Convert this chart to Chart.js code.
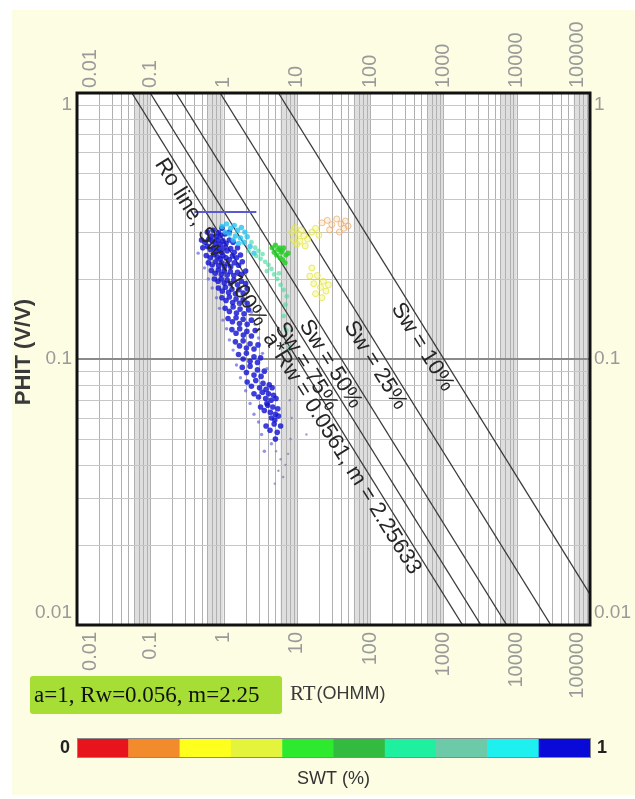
<!DOCTYPE html>
<html>
<head>
<meta charset="utf-8">
<script src="https://cdn.jsdelivr.net/npm/chart.js@4.4.1/dist/chart.umd.min.js"></script>
<style>
  html, body { margin: 0; padding: 0; background: #fff; }
</style>
</head>
<body>
<canvas id="pickett" width="635" height="799"></canvas>
<script>
// axis ticks
const rtTicks = [0.01, 0.1, 1, 10, 100, 1000, 10000, 100000]
const rtTickLabels = ['0.01', '0.1', '1', '10', '100', '1000', '10000', '100000']
const phiTicks = [1, 0.1, 0.01]
const phiTickLabels = ['1', '0.1', '0.01']

// Archie / Pickett parameters
const aRw = 0.0561
const mExp = 2.25633
const nExp = 2
const swLines = [1, 0.75, 0.5, 0.25, 0.1]
const swLineLabels = ['Ro line, Sw = 100%, a*Rw = 0.0561, m = 2.25633', 'Sw = 75%', 'Sw = 50%', 'Sw = 25%', 'Sw = 10%']
const swLabelPhi = [0.099, 0.099, 0.101, 0.1, 0.117]

// SWT colour scale, 0 -> 1
const swtColors = ['#e8141c', '#f28b2c', '#ffff1e', '#e4f43c', '#2eea2e', '#33bb40', '#1ff0a0', '#6ccaa8', '#1ef0f0', '#0a0ad8']

// porosity cutoff segment
const cutoffRt = [0.4, 2.8]
const cutoffPhi = [0.357, 0.357]

// log samples [RT, PHIT]
const bluePts = [
  [0.6, 0.3], [0.72, 0.305], [0.85, 0.298], [0.95, 0.31], [0.68, 0.29], [0.8, 0.288], [0.92, 0.292], [1.05, 0.295], [1.2, 0.3],
  [0.5, 0.28], [0.56, 0.275], [0.63, 0.282], [0.7, 0.278], [0.77, 0.272], [0.84, 0.28], [0.9, 0.27], [0.98, 0.278], [1.08, 0.272], [1.2, 0.28], [1.35, 0.275],
  [0.52, 0.262], [0.6, 0.265], [0.66, 0.258], [0.73, 0.262], [0.8, 0.255], [0.87, 0.26], [0.94, 0.252], [1.02, 0.262], [1.12, 0.255], [1.25, 0.26], [1.4, 0.252], [1.55, 0.262],
  [0.58, 0.245], [0.66, 0.24], [0.74, 0.247], [0.82, 0.242], [0.9, 0.238], [0.98, 0.245], [1.08, 0.24], [1.2, 0.236], [1.32, 0.244], [1.5, 0.24], [1.7, 0.246],
  [0.62, 0.23], [0.7, 0.226], [0.78, 0.232], [0.86, 0.224], [0.94, 0.23], [1.03, 0.222], [1.13, 0.228], [1.25, 0.222], [1.4, 0.23], [1.6, 0.225], [1.8, 0.232],
  [0.68, 0.215], [0.77, 0.21], [0.85, 0.216], [0.93, 0.208], [1.02, 0.214], [1.12, 0.207], [1.24, 0.213], [1.38, 0.206], [1.55, 0.212], [1.75, 0.208], [2.0, 0.214],
  [0.75, 0.2], [0.84, 0.196], [0.93, 0.2], [1.02, 0.193], [1.12, 0.198], [1.24, 0.192], [1.38, 0.198], [1.55, 0.19], [1.75, 0.196], [2.0, 0.192],
  [0.85, 0.185], [0.96, 0.18], [1.06, 0.186], [1.17, 0.178], [1.3, 0.183], [1.45, 0.176], [1.62, 0.182], [1.85, 0.177], [2.1, 0.184],
  [0.95, 0.17], [1.08, 0.166], [1.2, 0.171], [1.33, 0.163], [1.48, 0.168], [1.65, 0.162], [1.85, 0.167], [2.1, 0.162],
  [1.05, 0.155], [1.2, 0.151], [1.35, 0.157], [1.5, 0.149], [1.68, 0.154], [1.9, 0.148], [2.2, 0.153],
  [1.15, 0.142], [1.32, 0.138], [1.48, 0.143], [1.65, 0.136], [1.85, 0.141], [2.1, 0.135], [2.4, 0.14],
  [1.3, 0.129], [1.48, 0.125], [1.66, 0.13], [1.86, 0.123], [2.08, 0.127], [2.4, 0.122], [2.7, 0.128],
  [1.45, 0.116], [1.65, 0.112], [1.85, 0.117], [2.05, 0.11], [2.3, 0.114], [2.6, 0.109], [2.95, 0.113],
  [1.6, 0.104], [1.85, 0.1], [2.05, 0.105], [2.3, 0.098], [2.6, 0.102], [2.9, 0.097], [3.2, 0.101],
  [1.8, 0.093], [2.05, 0.089], [2.3, 0.094], [2.6, 0.087], [2.9, 0.091], [3.25, 0.086], [3.6, 0.09],
  [2.1, 0.082], [2.4, 0.079], [2.75, 0.083], [3.1, 0.078], [3.45, 0.081], [3.8, 0.077], [4.2, 0.08], [4.6, 0.078],
  [2.6, 0.074], [3.0, 0.072], [3.4, 0.075], [3.75, 0.071], [4.1, 0.074], [4.45, 0.07], [4.8, 0.073], [5.2, 0.071], [3.9, 0.068],
  [3.2, 0.066], [3.6, 0.064], [4.0, 0.067], [4.35, 0.063], [4.7, 0.066], [5.1, 0.062], [5.5, 0.065], [4.5, 0.06], [5.0, 0.059], [5.6, 0.061],
  [3.8, 0.056], [4.3, 0.054], [4.9, 0.057], [5.4, 0.053], [6.0, 0.056], [5.1, 0.05]
]
const lightBluePts = [
  [0.45, 0.25], [0.55, 0.22], [0.62, 0.2], [0.7, 0.185], [0.8, 0.17], [0.88, 0.155], [0.98, 0.14], [1.1, 0.13], [1.2, 0.118],
  [1.35, 0.108], [1.5, 0.095], [1.7, 0.085], [2.0, 0.076], [2.3, 0.068], [2.6, 0.062], [3.0, 0.058], [2.4, 0.15], [2.7, 0.135],
  [3.0, 0.12], [3.4, 0.105], [3.9, 0.092], [3.3, 0.052], [4.5, 0.048], [3.6, 0.045]
]
const cyanPts = [
  [0.95, 0.315], [1.1, 0.322], [1.25, 0.31], [1.4, 0.318], [1.55, 0.305], [1.75, 0.312], [1.95, 0.3], [1.2, 0.295], [1.45, 0.29],
  [1.7, 0.285], [2.1, 0.288], [1.35, 0.28], [1.6, 0.272], [1.9, 0.275], [2.3, 0.265], [1.05, 0.3], [2.6, 0.25]
]
const tealPts = [
  [2.4, 0.275], [2.7, 0.262], [3.0, 0.255], [3.4, 0.248], [3.2, 0.238], [3.7, 0.232], [4.1, 0.226], [4.5, 0.218], [4.9, 0.208],
  [5.4, 0.2], [6.0, 0.19], [6.6, 0.182], [7.3, 0.172], [3.9, 0.214], [5.7, 0.21], [2.8, 0.244], [7.0, 0.16], [6.6, 0.145],
  [7.2, 0.128], [7.8, 0.11], [2.2, 0.255]
]
const greenPts = [
  [4.6, 0.262], [5.1, 0.268], [5.6, 0.258], [6.1, 0.252], [6.6, 0.262], [7.1, 0.246], [5.9, 0.24], [6.4, 0.236], [7.6, 0.25],
  [5.3, 0.246], [4.9, 0.252], [6.9, 0.23], [6.3, 0.255], [5.8, 0.262]
]
const yellowPts = [
  [8.5, 0.3], [9.5, 0.312], [10.5, 0.295], [11.5, 0.305], [12.5, 0.29], [9, 0.28], [10, 0.27], [11, 0.277], [13, 0.266], [14, 0.282],
  [16, 0.3], [18, 0.31], [20, 0.292], [15, 0.205], [17, 0.192], [19, 0.206], [21, 0.186], [23, 0.196], [25, 0.18], [27, 0.19],
  [18, 0.176], [22, 0.17], [16, 0.22]
]
const orangePts = [
  [22, 0.325], [26, 0.332], [30, 0.32], [35, 0.336], [40, 0.322], [46, 0.33], [50, 0.316], [28, 0.306], [38, 0.3], [44, 0.31]
]
const grayPts = [
  [5.2, 0.045], [6.0, 0.042], [5.6, 0.038], [6.5, 0.036], [7.0, 0.04], [5.0, 0.034], [7.6, 0.044], [8.2, 0.05], [8.5, 0.06],
  [8.0, 0.07], [13.5, 0.052], [1.3, 0.19], [1.6, 0.16], [0.7, 0.23]
]

const SANS = '"Liberation Sans", Arial, sans-serif'
const SERIF = '"Liberation Serif", "Times New Roman", serif'

const toXY = pts => pts.map(p => ({ x: p[0], y: p[1] }))
const rtOnLine = (phi, sw) => aRw / Math.pow(phi, mExp) / Math.pow(sw, nExp)

function pointSet (pts, fill, stroke, radius) {
  return {
    data: toXY(pts),
    pointRadius: radius,
    pointBackgroundColor: fill,
    pointBorderColor: stroke,
    pointBorderWidth: stroke ? 1 : 0,
    showLine: false
  }
}

const datasets = []
datasets.push(pointSet(grayPts, 'rgba(120,120,170,0.7)', null, 1.2))
datasets.push(pointSet(orangePts, 'rgba(245,200,140,0.25)', 'rgba(235,170,110,0.7)', 3))
datasets.push(pointSet(yellowPts, 'rgba(240,240,90,0.35)', 'rgba(225,225,60,0.7)', 3))
datasets.push(pointSet(tealPts, 'rgba(70,220,160,0.65)', null, 2.4))
datasets.push(pointSet(greenPts, 'rgba(40,205,40,0.85)', null, 2.6))
datasets.push(pointSet(cyanPts, 'rgba(40,195,240,0.8)', null, 2.7))
datasets.push(pointSet(lightBluePts, 'rgba(100,100,225,0.7)', null, 1.7))
datasets.push(pointSet(bluePts, 'rgba(20,20,210,0.82)', null, 2.8))

datasets.push({
  data: cutoffRt.map((r, i) => ({ x: r, y: cutoffPhi[i] })),
  showLine: true,
  borderColor: '#5a5ad2',
  borderWidth: 2,
  pointRadius: 0
})

swLines.forEach(sw => {
  datasets.push({
    data: [{ x: rtOnLine(1, sw), y: 1 }, { x: rtOnLine(0.01, sw), y: 0.01 }],
    showLine: true,
    borderColor: '#3a3a3a',
    borderWidth: 1.3,
    pointRadius: 0
  })
})

const pickettDecor = {
  id: 'pickettDecor',
  beforeDraw (chart) {
    const { ctx, chartArea: a } = chart
    const x = chart.scales.x
    const y = chart.scales.y
    ctx.save()
    ctx.fillStyle = '#ffffff'
    ctx.fillRect(0, 0, chart.width, chart.height)
    ctx.fillStyle = '#fdfde4'
    ctx.fillRect(12, 10, chart.width - 12, chart.height - 14)
    ctx.fillStyle = '#ffffff'
    ctx.fillRect(a.left, a.top, a.right - a.left, a.bottom - a.top)

    // shaded band 6..10 inside each decade
    ctx.fillStyle = '#dedede'
    for (let d = -2; d < 5; d++) {
      const x0 = x.getPixelForValue(6 * Math.pow(10, d))
      const x1 = x.getPixelForValue(Math.pow(10, d + 1))
      ctx.fillRect(x0, a.top, x1 - x0, a.bottom - a.top)
    }

    // vertical grid
    ctx.lineWidth = 1
    ctx.strokeStyle = '#b0b0b0'
    for (let d = -2; d < 5; d++) {
      for (let k = 1; k < 10; k++) {
        const px = Math.round(x.getPixelForValue(k * Math.pow(10, d))) + 0.5
        ctx.beginPath()
        ctx.moveTo(px, a.top)
        ctx.lineTo(px, a.bottom)
        ctx.stroke()
      }
    }
    // horizontal grid
    ctx.strokeStyle = '#c6c6c6'
    for (let d = -2; d < 0; d++) {
      for (let k = 2; k < 10; k++) {
        const py = Math.round(y.getPixelForValue(k * Math.pow(10, d))) + 0.5
        ctx.beginPath()
        ctx.moveTo(a.left, py)
        ctx.lineTo(a.right, py)
        ctx.stroke()
      }
    }
    ctx.strokeStyle = '#8a8a8a'
    ctx.lineWidth = 2
    const p1 = Math.round(y.getPixelForValue(0.1))
    ctx.beginPath()
    ctx.moveTo(a.left, p1)
    ctx.lineTo(a.right, p1)
    ctx.stroke()
    ctx.restore()
  },
  afterDraw (chart) {
    const { ctx, chartArea: a } = chart
    const x = chart.scales.x
    const y = chart.scales.y
    ctx.save()

    // labels along the Sw lines
    ctx.fillStyle = '#262626'
    ctx.font = '22px ' + SANS
    ctx.textAlign = 'center'
    ctx.textBaseline = 'middle'
    swLines.forEach((sw, i) => {
      const phi = swLabelPhi[i]
      const px = x.getPixelForValue(rtOnLine(phi, sw))
      const py = y.getPixelForValue(phi)
      const qx = x.getPixelForValue(rtOnLine(phi / 2, sw))
      const qy = y.getPixelForValue(phi / 2)
      ctx.save()
      ctx.translate(px, py)
      ctx.rotate(Math.atan2(qy - py, qx - px))
      ctx.fillText(swLineLabels[i], 0, 12)
      ctx.restore()
    })

    // frame
    ctx.strokeStyle = '#111'
    ctx.lineWidth = 3
    ctx.strokeRect(a.left, a.top, a.right - a.left, a.bottom - a.top)

    // x tick labels, top and bottom, rotated
    ctx.fillStyle = '#9a9a9a'
    ctx.font = '20px ' + SANS
    ctx.textBaseline = 'middle'
    rtTicks.forEach((v, i) => {
      let px = x.getPixelForValue(v)
      if (i === 0) px += 13
      if (i === rtTicks.length - 1) px -= 13
      ctx.save()
      ctx.translate(px, a.top - 5)
      ctx.rotate(-Math.PI / 2)
      ctx.textAlign = 'left'
      ctx.fillText(rtTickLabels[i], 0, 0)
      ctx.restore()
      ctx.save()
      ctx.translate(px, a.bottom + 7)
      ctx.rotate(-Math.PI / 2)
      ctx.textAlign = 'right'
      ctx.fillText(rtTickLabels[i], 0, 0)
      ctx.restore()
    })

    // y tick labels, left and right
    ctx.font = '19px ' + SANS
    phiTicks.forEach((v, i) => {
      let py = y.getPixelForValue(v)
      if (i === 0) py += 12
      if (i === phiTicks.length - 1) py -= 12
      ctx.textAlign = 'right'
      ctx.fillText(phiTickLabels[i], a.left - 5, py)
      ctx.textAlign = 'left'
      ctx.fillText(phiTickLabels[i], a.right + 4, py)
    })

    // axis titles
    ctx.fillStyle = '#3a3a3a'
    ctx.save()
    ctx.translate(24, 352)
    ctx.rotate(-Math.PI / 2)
    ctx.textAlign = 'center'
    ctx.font = 'bold 22px ' + SANS
    ctx.fillText('PHIT (V/V)', 0, 0)
    ctx.restore()

    ctx.textAlign = 'left'
    ctx.font = '21px ' + SERIF
    ctx.fillText('RT', 290, 694)
    const rtW = ctx.measureText('RT').width
    ctx.font = '18px ' + SANS
    ctx.fillText('(OHMM)', 290 + rtW + 1, 694)

    // parameter box
    ctx.fillStyle = '#a6de36'
    ctx.beginPath()
    ctx.roundRect(30, 676, 252, 38, 3)
    ctx.fill()
    ctx.fillStyle = '#111'
    ctx.font = '23px ' + SERIF
    ctx.fillText('a=1, Rw=0.056, m=2.25', 34, 696)

    // SWT colour bar
    const barL = a.left
    const barW = (a.right - a.left) / swtColors.length
    swtColors.forEach((c, i) => {
      ctx.fillStyle = c
      ctx.fillRect(barL + i * barW, 738, barW + 0.5, 19)
    })
    ctx.strokeStyle = '#8a8a8a'
    ctx.lineWidth = 1
    ctx.strokeRect(barL + 0.5, 738.5, a.right - a.left, 19)
    ctx.fillStyle = '#222'
    ctx.font = 'bold 18px ' + SANS
    ctx.textAlign = 'right'
    ctx.fillText('0', barL - 7, 748)
    ctx.textAlign = 'left'
    ctx.fillText('1', a.right + 7, 748)
    ctx.fillStyle = '#333'
    ctx.font = '18px ' + SANS
    ctx.textAlign = 'center'
    ctx.fillText('SWT (%)', (a.left + a.right) / 2, 779)
    ctx.restore()
  }
}

new Chart(document.getElementById('pickett'), {
  type: 'scatter',
  data: { datasets: datasets },
  options: {
    responsive: false,
    animation: false,
    events: [],
    layout: { padding: { left: 77, right: 45, top: 93, bottom: 174 } },
    plugins: { legend: { display: false }, tooltip: { enabled: false } },
    scales: {
      x: { type: 'logarithmic', min: 0.01, max: 100000, display: false },
      y: { type: 'logarithmic', min: 0.01, max: 1, display: false }
    }
  },
  plugins: [pickettDecor]
})
</script>
</body>
</html>
